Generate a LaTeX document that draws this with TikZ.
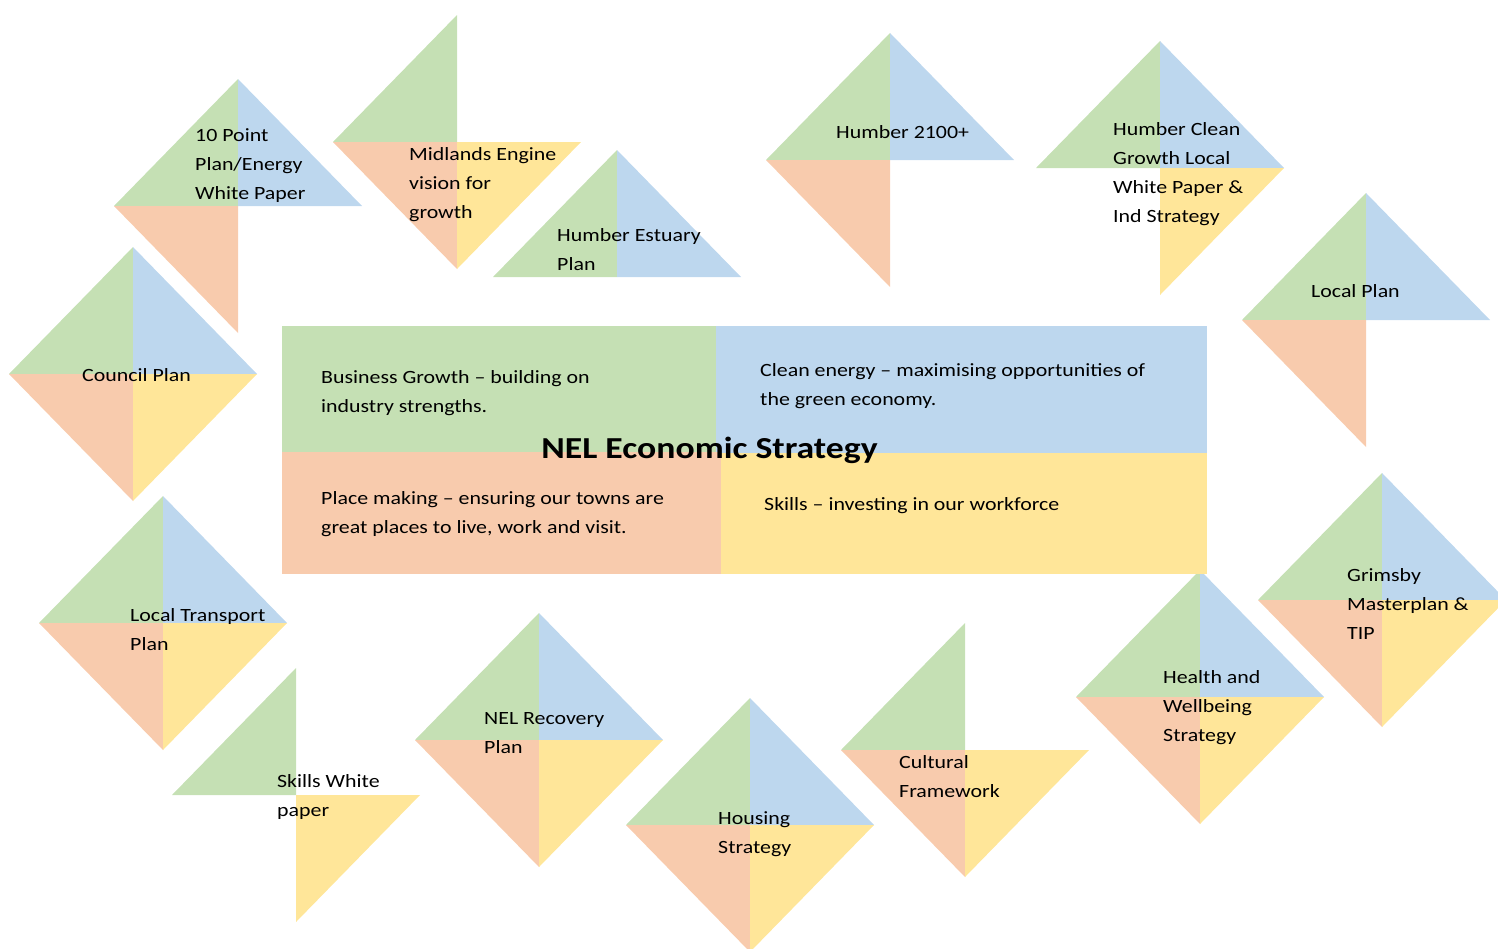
\documentclass[tikz,border=0pt]{standalone}
\usepackage{fontspec}
\setmainfont{Carlito}[FakeStretch=1.17]
\usepackage{tikz}

\definecolor{leafgreen}{HTML}{C5E0B4}
\definecolor{skyblue}{HTML}{BDD7EE}
\definecolor{peach}{HTML}{F8CBAD}
\definecolor{sand}{HTML}{FFE699}

% one quarter of a diamond, coloured by where it sits
\tikzset{
    kite green/.style={fill=leafgreen, xscale=-1, yscale=-1},
    kite blue/.style={fill=skyblue, yscale=-1},
    kite peach/.style={fill=peach, xscale=-1},
    kite sand/.style={fill=sand},
    doc/.style={font=\fontsize{18.7}{29}\selectfont, align=left, inner sep=0, anchor=base west},
}
\newcommand{\kite}[2]{%
    \foreach \q in {#2} {
        \path[shift={(#1)}, kite \q] (0,0) -- (124,0) -- (0,127) -- cycle;
    }
}

\begin{document}
\begin{tikzpicture}[x=1pt, y=-1pt]
    \useasboundingbox (0,0) rectangle (1498,948);

    % Diamonds round the strategy
    \kite{238,206}{green, blue, peach}
    \kite{457,142}{green, peach, sand}
    \kite{617,277}{green, blue}
    \kite{890,160}{green, blue, peach}
    \kite{1160,168}{green, blue, sand}
    \kite{1366,320}{green, blue, peach}
    \kite{133,374}{green, blue, peach, sand}
    \kite{163,623}{green, blue, peach, sand}
    \kite{296,795}{green, sand}
    \kite{539,740}{green, blue, peach, sand}
    \kite{750,825}{green, blue, peach, sand}
    \kite{965,750}{green, peach, sand}
    \kite{1200,697}{green, blue, peach, sand}
    \kite{1382,600}{green, blue, peach, sand}

    % labels sit on the baseline of their last line
    \node[doc] (tenpoint) at (195,199) {10 Point\\Plan/Energy\\White Paper};
    \node[doc] (midlands) at (409,218) {Midlands Engine\\vision for\\growth};
    \node[doc] (estuary) at (557,270) {Humber Estuary\\Plan};
    \node[doc] (humber) at (836,138) {Humber 2100+};
    \node[doc] (clean) at (1113,222) {Humber Clean\\Growth Local\\White Paper \&\\Ind Strategy};
    \node[doc] (local) at (1311,297) {Local Plan};
    \node[doc] (council) at (82,381) {Council Plan};
    \node[doc] (transport) at (130,650) {Local Transport\\Plan};
    \node[doc] (skillswp) at (277,816) {Skills White\\paper};
    \node[doc] (recovery) at (484,753) {NEL Recovery\\Plan};
    \node[doc] (housing) at (718,853) {Housing\\Strategy};
    \node[doc] (cultural) at (899,797) {Cultural\\Framework};
    \node[doc] (health) at (1163,741) {Health and\\Wellbeing\\Strategy};
    \node[doc] (grimsby) at (1347,639) {Grimsby\\Masterplan \&\\TIP};

    % Centre panel
    \fill[leafgreen] (282,326) rectangle (716,452);
    \fill[skyblue] (716,326) rectangle (1207,453);
    \fill[peach] (282,452) rectangle (721,574);
    \fill[sand] (721,453) rectangle (1207,574);

    \node[doc] (business) at (321,412) {Business Growth -- building on\\industry strengths.};
    \node[doc] (energy) at (760,405) {Clean energy -- maximising opportunities of\\the green economy.};
    \node[doc] (place) at (321,533) {Place making -- ensuring our towns are\\great places to live, work and visit.};
    \node[doc] (skills) at (764,510) {Skills -- investing in our workforce};
    \node[font=\fontsize{30.5}{36}\selectfont\bfseries, inner sep=0, anchor=base] (title) at (709.5,458) {NEL Economic Strategy};
\end{tikzpicture}
\end{document}
